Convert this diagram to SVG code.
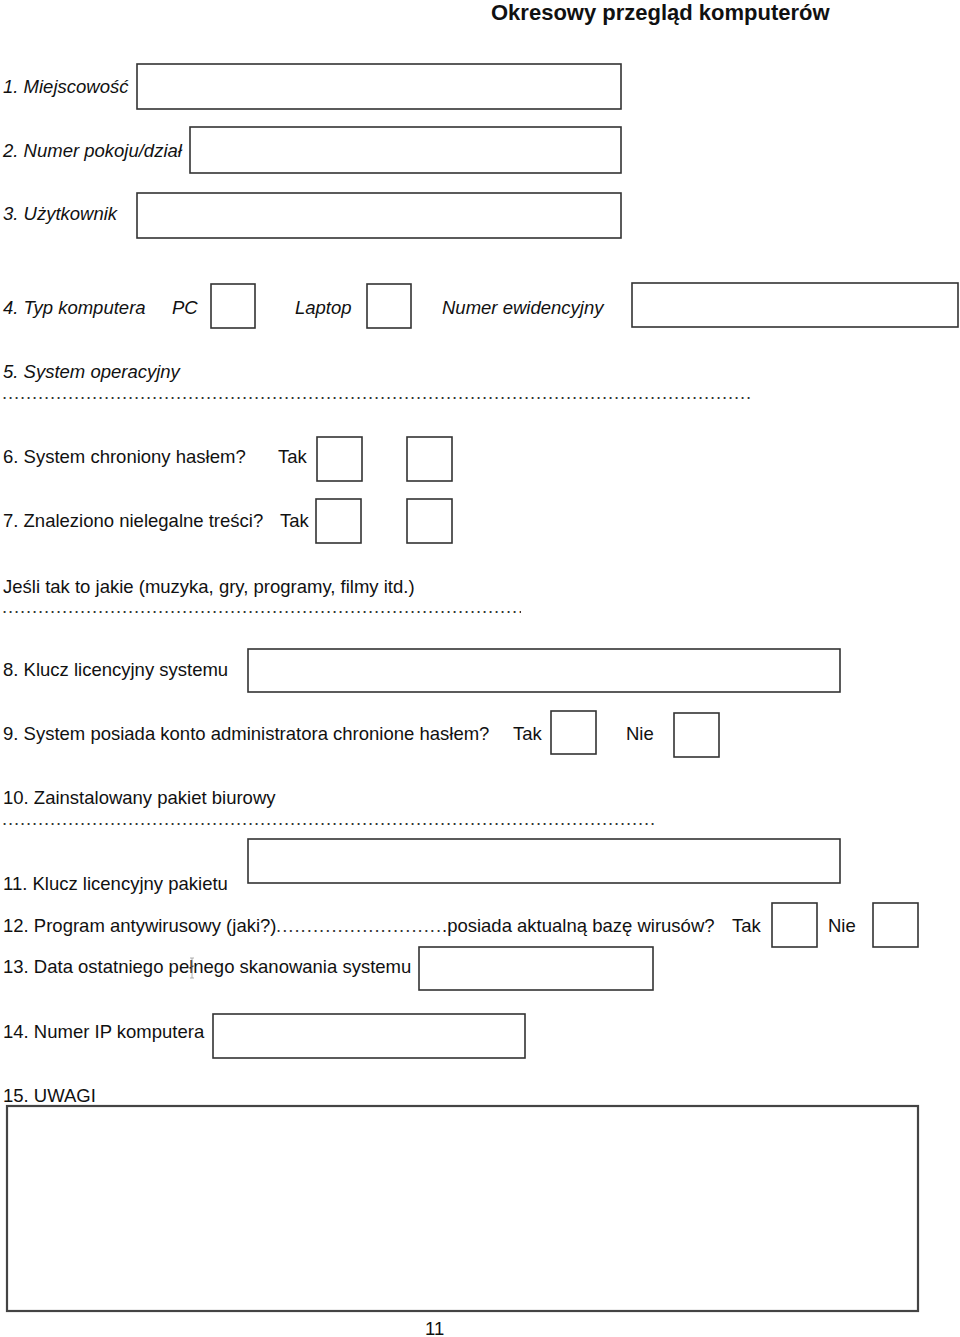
<svg xmlns="http://www.w3.org/2000/svg" width="960" height="1337" viewBox="0 0 960 1337">
<style>
text{font-family:"Liberation Sans",Arial,sans-serif;font-size:18.5px;fill:#111}
.it{font-style:italic}
.title{font-weight:bold;font-size:22px}
.box{fill:#fff;stroke:#333;stroke-width:1.6}
.big{fill:#fff;stroke:#444;stroke-width:2.2}
.dots{fill:#333;letter-spacing:0.86px}
</style>
<defs>
<clipPath id="c5"><rect x="0" y="385" width="752" height="20"/></clipPath>
<clipPath id="c7"><rect x="0" y="600" width="521" height="20"/></clipPath>
<clipPath id="c10"><rect x="0" y="812" width="654" height="20"/></clipPath>
</defs>
<rect width="960" height="1337" fill="#fff"/>
<g id="title"><text class="title" x="491" y="20">Okresowy przegląd komputerów</text></g>

<g id="q1"><text class="it" x="3" y="93">1. Miejscowość</text><rect class="box" x="137" y="64" width="484" height="45"/></g>
<g id="q2"><text class="it" x="3" y="157">2. Numer pokoju/dział</text><rect class="box" x="190" y="127" width="431" height="46"/></g>
<g id="q3"><text class="it" x="3" y="220">3. Użytkownik</text><rect class="box" x="137" y="193" width="484" height="45"/></g>

<g id="q4">
<text class="it" x="3" y="314">4. Typ komputera</text>
<text class="it" x="172" y="314">PC</text>
<rect class="box" x="211" y="284" width="44" height="44"/>
<text class="it" x="295" y="314">Laptop</text>
<rect class="box" x="367" y="284" width="44" height="44"/>
<text class="it" x="442" y="314">Numer ewidencyjny</text>
<rect class="box" x="632" y="283" width="326" height="44"/>
</g>

<g id="q5">
<text class="it" x="3" y="378">5. System operacyjny</text>
<text class="dots" x="2" y="399" clip-path="url(#c5)">..........................................................................................................................................................</text>
</g>

<g id="q6">
<text x="3" y="463">6. System chroniony hasłem?</text>
<text x="278" y="463">Tak</text>
<rect class="box" x="317" y="437" width="45" height="44"/>
<rect class="box" x="407" y="437" width="45" height="44"/>
</g>

<g id="q7">
<text x="3" y="527">7. Znaleziono nielegalne treści?</text>
<text x="280" y="527">Tak</text>
<rect class="box" x="316" y="499" width="45" height="44"/>
<rect class="box" x="407" y="499" width="45" height="44"/>
<text x="3" y="593">Jeśli tak to jakie (muzyka, gry, programy, filmy itd.)</text>
<text class="dots" x="2" y="613" clip-path="url(#c7)">..........................................................................................................................................................</text>
</g>

<g id="q8">
<text x="3" y="676">8. Klucz licencyjny systemu</text>
<rect class="box" x="248" y="649" width="592" height="43"/>
</g>

<g id="q9">
<text x="3" y="740">9. System posiada konto administratora chronione hasłem?</text>
<text x="513" y="740">Tak</text>
<rect class="box" x="551" y="711" width="45" height="43"/>
<text x="626" y="740">Nie</text>
<rect class="box" x="674" y="713" width="45" height="44"/>
</g>

<g id="q10">
<text x="3" y="804">10. Zainstalowany pakiet biurowy</text>
<text class="dots" x="2" y="825" clip-path="url(#c10)">..........................................................................................................................................................</text>
</g>

<g id="q11">
<rect class="box" x="248" y="839" width="592" height="44"/>
<text x="3" y="890">11. Klucz licencyjny pakietu</text>
</g>

<g id="q12">
<text x="3" y="932">12. Program antywirusowy (jaki?)</text>
<text class="dots" x="276" y="932" textLength="166" lengthAdjust="spacing">...........................</text>
<text x="442" y="932">.posiada aktualną bazę wirusów?</text>
<text x="732" y="932">Tak</text>
<rect class="box" x="772" y="903" width="45" height="44"/>
<text x="828" y="932">Nie</text>
<rect class="box" x="873" y="903" width="45" height="44"/>
</g>

<g id="q13">
<text x="3" y="973">13. Data ostatniego pełnego skanowania systemu</text>
<path d="M190 958h4M192 958v20M190 978h4" stroke="#999" stroke-width="0.8" fill="none"/>
<rect class="box" x="419" y="947" width="234" height="43"/>
</g>

<g id="q14">
<text x="3" y="1038">14. Numer IP komputera</text>
<rect class="box" x="213" y="1014" width="312" height="44"/>
</g>

<g id="q15">
<text x="3" y="1102">15. UWAGI</text>
<rect class="big" x="7" y="1106" width="911" height="205"/>
</g>

<g id="page"><text x="425" y="1335">11</text></g>
<g id="connectors"></g>
</svg>
